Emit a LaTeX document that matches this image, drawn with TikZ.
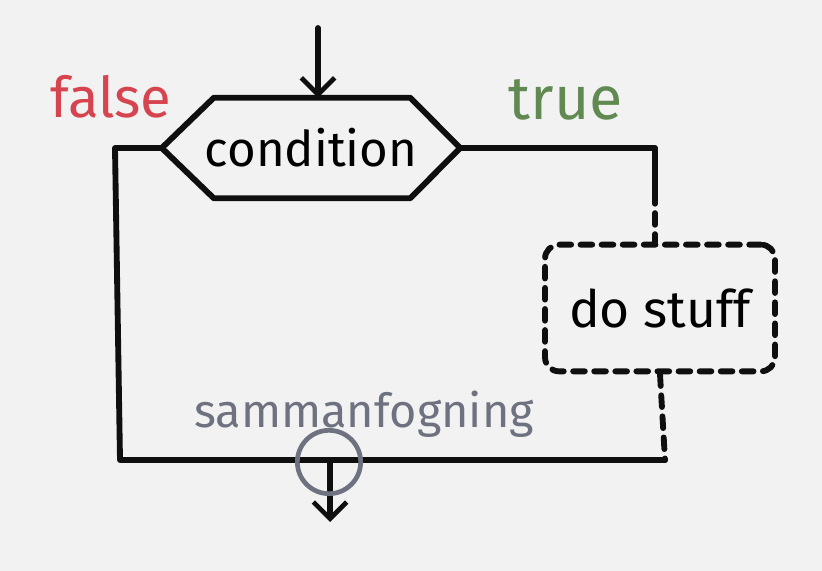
\documentclass[tikz,border=0pt]{standalone}
\usepackage{fontspec}
\setmainfont{Fira Sans}
\usetikzlibrary{arrows.meta,positioning,calc}
\definecolor{paper}{RGB}{242,242,242}
\definecolor{ink}{RGB}{15,15,15}
\definecolor{rose}{RGB}{214,68,80}
\definecolor{moss}{RGB}{96,138,82}
\definecolor{slate}{RGB}{110,114,128}
\tikzset{
  >={Straight Barb[length=5mm,width=10mm,line width=4pt]},
  pen/.style={draw=ink,line width=5pt,line cap=round,line join=round},
  dashpen/.style={pen,dash pattern=on 10pt off 8pt},
  hexa/.style={minimum width=8.94cm,minimum height=3cm,
    inner sep=0pt,font=\fontsize{42}{46}\selectfont},
  task/.style={dashpen,rounded corners=12pt,minimum width=6.9cm,minimum height=3.8cm,
    font=\fontsize{44}{48}\selectfont},
  tag/.style={font=\fontsize{#1}{#1}\selectfont},
}
\begin{document}
\begin{tikzpicture}[x=0.03cm,y=-0.03cm]
  \fill[paper] (0,0) rectangle (822,571);
  % decision
  \node[hexa] (cond) at (311,148) {condition};
  \draw[pen] (cond.west) -- ($(cond.north west)+(52,0)$) -- ($(cond.north east)+(-50,0)$)
    -- (cond.east) -- ($(cond.south east)+(-50,0)$) -- ($(cond.south west)+(52,0)$) -- cycle;
  \coordinate (in) at (318,28);
  \draw[pen,->] (in) -- (in |- cond.north);
  % false branch
  \coordinate (fl) at (115,148);
  \coordinate (bl) at (120,460);
  \coordinate (br) at (665,460);
  \draw[pen] (cond.west) -- (fl) -- (bl) -- (br);
  % true branch
  \coordinate (tr) at (655,148);
  \coordinate (td) at (655,192);
  \node[task] (stuff) at (660,308) {do stuff};
  \draw[pen] (cond.east) -- (tr) -- (td);
  \draw[dashpen] (td) -- (td |- stuff.north);
  \draw[dashpen] (stuff.south) -- (br);
  % merge
  \coordinate (mg) at (330,460);
  \coordinate (out) at (330,522);
  \draw[pen,->] (mg) -- (out);
  \node[draw=slate,line width=4pt,circle,minimum size=1.9cm] (join) at (329,462) {};
  % labels
  \node[tag=48,text=rose] (lfalse) at (111,97) {false};
  \node[tag=52,text=moss] (ltrue) at (566,100) {true};
  \node[tag=40,text=slate] (lmerge) at (364,414) {sammanfogning};
\end{tikzpicture}
\end{document}
